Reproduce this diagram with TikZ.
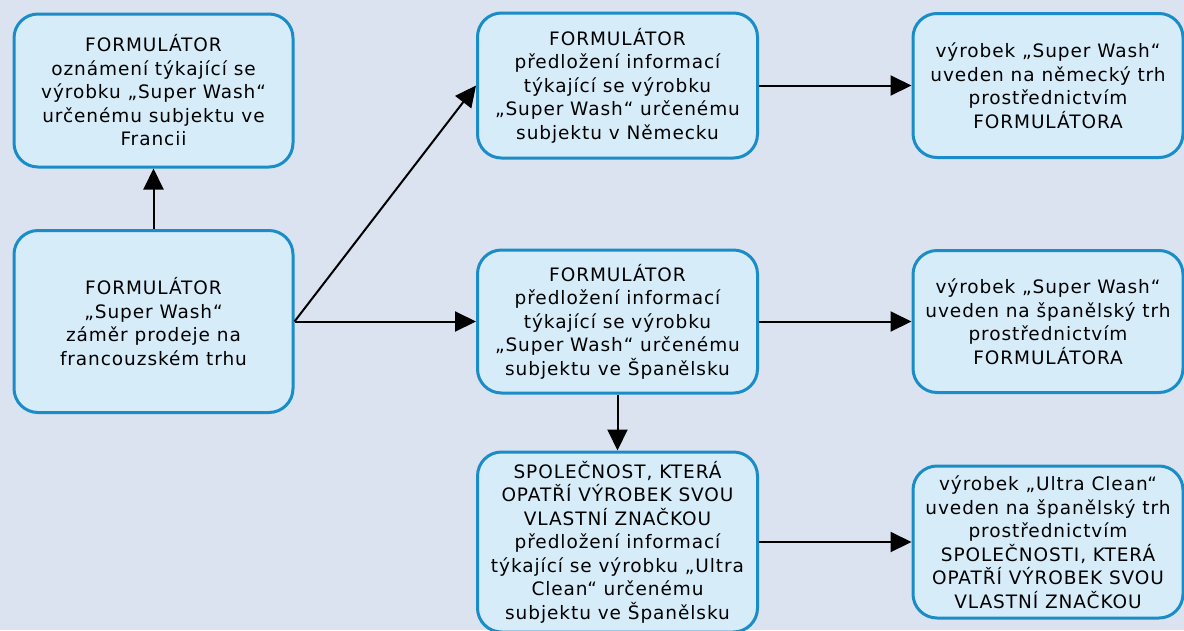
\documentclass[tikz,border=0pt]{standalone}
\usepackage{fontspec}
\setmainfont{DejaVu Sans}[LetterSpace=5]
\usetikzlibrary{arrows.meta}
\definecolor{bg}{HTML}{DAE3EF}
\definecolor{boxfill}{HTML}{D6ECF9}
\definecolor{boxborder}{HTML}{1A8CC8}
\tikzset{
  flowbox/.style={draw=boxborder, line width=3pt, fill=boxfill, rounded corners=24pt,
    align=center, inner sep=0pt, font=\fontsize{18.5}{23.5}\selectfont, text=black},
  conn/.style={line width=2pt, draw=black, -{Triangle[length=21pt,width=20pt]}}
}
\begin{document}
\begin{tikzpicture}[x=1pt,y=-1pt]
\fill[bg] (0,0) rectangle (1184,630);
\useasboundingbox (0,0) rectangle (1184,630);
\clip (0,0) rectangle (1184,630);

\node[flowbox, minimum width=279pt, minimum height=153pt] (A) at (153.5,90.5)
  {FORMULÁTOR\\oznámení týkající se\\výrobku „Super Wash“\\určenému subjektu ve\\Francii};
\node[flowbox, minimum width=279pt, minimum height=182pt] (B) at (153.5,321.5)
  {FORMULÁTOR\\„Super Wash“\\záměr prodeje na\\francouzském trhu};
\node[flowbox, minimum width=280pt, minimum height=145pt] (C) at (617.5,85.5)
  {FORMULÁTOR\\předložení informací\\týkající se výrobku\\„Super Wash“ určenému\\subjektu v Německu};
\node[flowbox, minimum width=280pt, minimum height=143pt] (D) at (617.5,321.5)
  {FORMULÁTOR\\předložení informací\\týkající se výrobku\\„Super Wash“ určenému\\subjektu ve Španělsku};
\node[flowbox, minimum width=280pt, minimum height=180pt] (E) at (617.5,542)
  {SPOLEČNOST, KTERÁ\\OPATŘÍ VÝROBEK SVOU\\VLASTNÍ ZNAČKOU\\předložení informací\\týkající se výrobku „Ultra\\Clean“ určenému\\subjektu ve Španělsku};
\node[flowbox, minimum width=270pt, minimum height=144pt] (F) at (1048,85.5)
  {výrobek „Super Wash“\\uveden na německý trh\\prostřednictvím\\FORMULÁTORA};
\node[flowbox, minimum width=270pt, minimum height=142pt] (G) at (1048,321.5)
  {výrobek „Super Wash“\\uveden na španělský trh\\prostřednictvím\\FORMULÁTORA};
\node[flowbox, minimum width=270pt, minimum height=152pt] (H) at (1048,542)
  {výrobek „Ultra Clean“\\uveden na španělský trh\\prostřednictvím\\SPOLEČNOSTI, KTERÁ\\OPATŘÍ VÝROBEK SVOU\\VLASTNÍ ZNAČKOU};

\draw[conn] (B.north) -- (A.south);
\draw[conn] (B.east) -- (C.west);
\draw[conn] (B.east) -- (D.west);
\draw[conn] (C.east) -- (F.west);
\draw[conn] (D.east) -- (G.west);
\draw[conn] (D.south) -- (E.north);
\draw[conn] (E.east) -- (H.west);
\end{tikzpicture}
\end{document}
